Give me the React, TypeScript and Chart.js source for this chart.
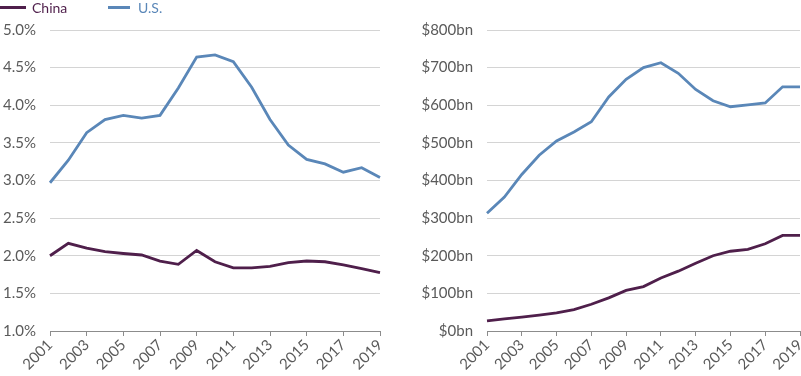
import React, { useEffect, useRef } from "react";
import { Chart, registerables } from "chart.js";

Chart.register(...registerables);

const years = ["2001","2002","2003","2004","2005","2006","2007","2008","2009","2010","2011","2012","2013","2014","2015","2016","2017","2018","2019"];

const chinaPct = [2.0, 2.165, 2.10, 2.054, 2.03, 2.01, 1.93, 1.886, 2.07, 1.92, 1.84, 1.84, 1.86, 1.91, 1.93, 1.92, 1.88, 1.83, 1.775];
const usPct = [2.97, 3.27, 3.635, 3.81, 3.866, 3.83, 3.866, 4.23, 4.64, 4.67, 4.58, 4.24, 3.81, 3.47, 3.28, 3.22, 3.11, 3.17, 3.04];

const chinaBn = [27, 32, 37, 42, 48, 57, 71, 88, 108, 118, 141, 159, 180, 200, 212, 217, 232, 254, 254];
const usBn = [313, 356, 416, 467, 505, 529, 556, 622, 669, 700, 713, 685, 642, 612, 596, 601, 606, 649, 649];

const CHINA_COLOR = "#4f1f4b";
const US_COLOR = "#5a87b8";
const TEXT_COLOR = "#5a5a5a";
const FONT = "Lato";

function makeOptions(yMin: number, yMax: number, step: number, fmt: (v: number) => string, yWidth: number, padRight: number) {
  return {
    animation: false,
    responsive: false,
    maintainAspectRatio: false,
    layout: { padding: { top: 30, right: padRight, left: 0, bottom: 0 } },
    plugins: { legend: { display: false }, tooltip: { enabled: false } },
    elements: { point: { radius: 0 }, line: { tension: 0, borderWidth: 2.8 } },
    scales: {
      x: {
        grid: { display: true, drawOnChartArea: false, drawTicks: true, tickLength: 5, color: "#8c8c8c" },
        border: { display: true, color: "#8c8c8c", width: 1 },
        ticks: {
          autoSkip: false,
          maxRotation: 45,
          minRotation: 45,
          padding: 0,
          color: TEXT_COLOR,
          font: { family: FONT, size: 15 },
          callback: function (this: any, _v: any, i: number) {
            const lab = years[i];
            return Number(lab) % 2 === 1 ? lab : null;
          },
        },
        afterFit: (s: any) => { s.height = 45; s.paddingRight = 0; s.paddingLeft = 0; },
      },
      y: {
        min: yMin,
        max: yMax,
        grid: { color: "#d4d4d4", drawTicks: false, lineWidth: 1 },
        border: { display: false },
        ticks: {
          stepSize: step,
          padding: 14,
          color: TEXT_COLOR,
          font: { family: FONT, size: 15 },
          callback: (v: any) => fmt(Number(v)),
        },
        afterFit: (s: any) => { s.width = yWidth; s.paddingTop = 0; s.paddingBottom = 0; },
      },
    },
  } as any;
}

function LineChart(props: { china: number[]; us: number[]; yMin: number; yMax: number; step: number; fmt: (v: number) => string; yWidth: number; width: number; padRight: number }) {
  const ref = useRef<HTMLCanvasElement | null>(null);
  useEffect(() => {
    if (!ref.current) return;
    const chart = new Chart(ref.current, {
      type: "line",
      data: {
        labels: years,
        datasets: [
          { label: "China", data: props.china, borderColor: CHINA_COLOR, backgroundColor: CHINA_COLOR, fill: false },
          { label: "U.S.", data: props.us, borderColor: US_COLOR, backgroundColor: US_COLOR, fill: false },
        ],
      },
      options: makeOptions(props.yMin, props.yMax, props.step, props.fmt, props.yWidth, props.padRight),
    });
    return () => chart.destroy();
  }, []);
  return <canvas ref={ref} width={props.width} height={376} style={{ display: "block", width: props.width, height: 376 }} />;
}

export default function App() {
  useEffect(() => {
    document.body.style.margin = "0";
  }, []);
  return (
    <div style={{ position: "absolute", left: 0, top: 0, width: 801, height: 376, background: "#fff", fontFamily: FONT }}>
      <div style={{ position: "absolute", left: 0, top: 0, width: 400, height: 376 }}>
        <LineChart china={chinaPct} us={usPct} yMin={1} yMax={5} step={0.5} fmt={(v) => v.toFixed(1) + "%"} yWidth={50} width={400} padRight={20} />
      </div>
      <div style={{ position: "absolute", left: 400, top: 0, width: 401, height: 376 }}>
        <LineChart china={chinaBn} us={usBn} yMin={0} yMax={800} step={100} fmt={(v) => "$" + v + "bn"} yWidth={87} width={401} padRight={1} />
      </div>
      <div style={{ position: "absolute", left: 0, top: 0, height: 15, display: "flex", alignItems: "center", fontSize: 14, whiteSpace: "nowrap" }}>
        <span style={{ display: "inline-block", width: 26, height: 3, background: CHINA_COLOR, marginRight: 6 }} />
        <span style={{ color: CHINA_COLOR, width: 76 }}>China</span>
        <span style={{ display: "inline-block", width: 22, height: 3, background: US_COLOR, marginRight: 8 }} />
        <span style={{ color: US_COLOR }}>U.S.</span>
      </div>
    </div>
  );
}
